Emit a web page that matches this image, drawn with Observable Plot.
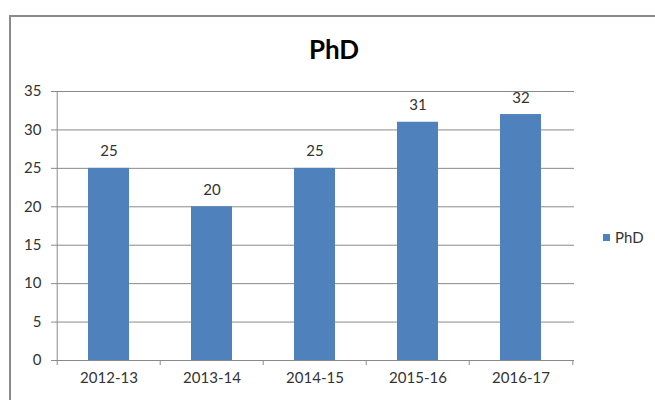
<!DOCTYPE html>
<html>
<head>
<meta charset="utf-8">
<script src="https://cdn.jsdelivr.net/npm/d3@7"></script>
<script src="https://cdn.jsdelivr.net/npm/@observablehq/plot@0.6"></script>
<style>
  html, body { margin: 0; padding: 0; background: #fff; }
  #wrap { position: relative; width: 655px; height: 400px; overflow: hidden; font-family: Lato, "Open Sans", sans-serif; }
  #border { position: absolute; left: 9px; top: 15px; width: 700px; height: 420px; border: 2px solid #8a8a8a; box-sizing: border-box; }
  #title { position: absolute; left: 0; width: 668px; top: 33px; text-align: center; font-weight: bold; font-size: 26px; color: #000; }
  #legend { position: absolute; left: 603px; top: 228px; font-size: 15px; color: #333; display: flex; align-items: center; }
  #legend .sw { width: 7px; height: 7px; background: #4f81bd; margin-right: 5px; }
  #chart { position: absolute; left: 0; top: 0; }
</style>
</head>
<body>
<div id="wrap">
  <div id="border"></div>
  <div id="chart"></div>
  <div id="title">PhD</div>
  <div id="legend"><div class="sw"></div><span>PhD</span></div>
</div>
<script>
const years = ["2012-13", "2013-14", "2014-15", "2015-16", "2016-17"];
const phd = [25, 20, 25, 31, 32];
const yTicks = [0, 5, 10, 15, 20, 25, 30, 35];
const seriesName = "PhD";

const data = years.map((y, i) => ({year: y, value: phd[i]}));

const W = 655, H = 400;
const mL = 56, mR = 81, mT = 91, mB = 40;
const step = (W - mL - mR) / years.length;
const grid = "#8a8a8a";

const plot = Plot.plot({
  width: W,
  height: H,
  marginLeft: mL,
  marginRight: mR,
  marginTop: mT,
  marginBottom: mB,
  style: {fontFamily: "Lato, 'Open Sans', sans-serif", fontSize: "15px", color: "#333", background: "transparent"},
  x: {domain: years, paddingInner: 0.6, paddingOuter: 0.3, label: null},
  y: {domain: [0, 35], label: null},
  marks: [
    Plot.ruleY(yTicks, {stroke: grid, strokeWidth: 1}),
    Plot.barY(data, {x: "year", y: "value", fill: "#4f81bd"}),
    Plot.ruleX([years[0]], {x: d => d, dx: -step / 2, stroke: grid}),
    Plot.ruleX(years, {x: d => d, dx: -step / 2, stroke: grid, insetTop: H - mT - mB, insetBottom: -5}),
    Plot.ruleX([years[years.length - 1]], {x: d => d, dx: step / 2, stroke: grid, insetTop: H - mT - mB, insetBottom: -5}),
    Plot.axisY({ticks: yTicks, tickSize: 5, tickPadding: 10, stroke: grid, fill: "#333", fontSize: 15}),
    Plot.axisX({tickSize: 0, tickPadding: 12, fill: "#333", fontSize: 15}),
    Plot.text(data, {x: "year", y: "value", text: d => String(d.value), lineAnchor: "bottom", dy: -12, fill: "#333", fontSize: 15})
  ]
});
document.getElementById("chart").appendChild(plot);
</script>
</body>
</html>
